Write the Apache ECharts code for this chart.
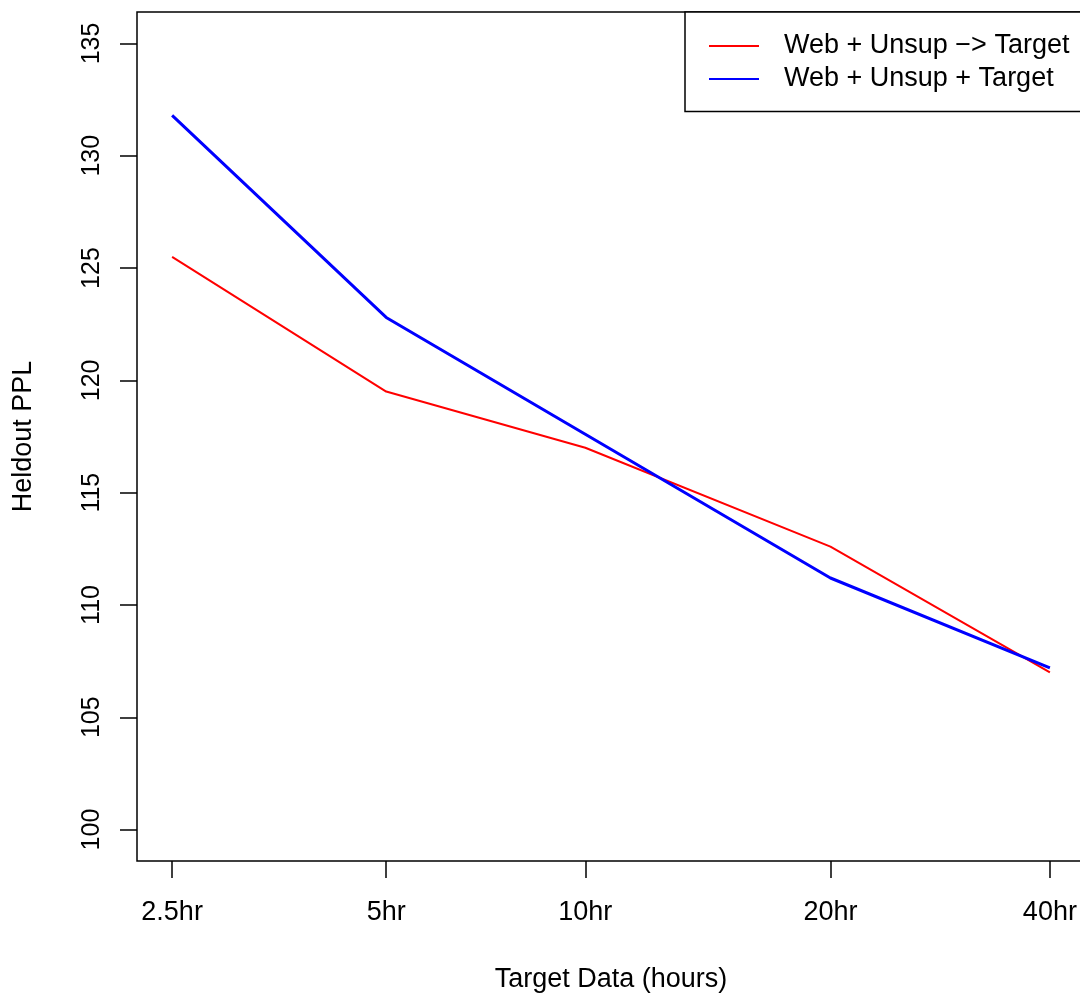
<!DOCTYPE html>
<html>
<head>
<meta charset="utf-8">
<script src="https://cdn.jsdelivr.net/npm/echarts@6/dist/echarts.min.js"></script>
<style>
html,body{margin:0;padding:0;background:#fff;overflow:hidden;}
#chart{width:1080px;height:994px;}
</style>
</head>
<body>
<div id="chart"></div>
<script>
// Categories (x tick labels) and their positions on the x axis
var categories = ['2.5hr', '5hr', '10hr', '20hr', '40hr'];
var xPositions = [1, 2, 2.93, 4.075, 5.10];
// Series values
var seqValues = [125.5, 119.5, 117.0, 112.6, 107.0];   // Web + Unsup -> Target
var jointValues = [131.8, 122.8, 117.6, 111.2, 107.2]; // Web + Unsup + Target
var seriesNames = ['Web + Unsup \u2212> Target', 'Web + Unsup + Target'];
// Y tick labels
var yTicks = [100, 105, 110, 115, 120, 125, 130, 135];

var FONT = "'Liberation Sans', Arial, Helvetica, sans-serif";

function pairs(vals) {
  return vals.map(function (v, i) { return [xPositions[i], v]; });
}

var xSpan = xPositions[xPositions.length - 1] - xPositions[0];
var xMin = xPositions[0] - 0.04 * xSpan;
var xMax = xPositions[xPositions.length - 1] + 0.04 * xSpan;
var yMin = 100 - 0.04 * 35, yMax = 135 + 0.04 * 35;

var chart = echarts.init(document.getElementById('chart'), null, {renderer: 'canvas'});
chart.setOption({
  animation: false,
  backgroundColor: '#ffffff',
  textStyle: {fontFamily: FONT, color: '#000'},
  grid: {
    left: 137, width: 948, top: 12, bottom: 133,
    containLabel: false,
    outerBoundsMode: 'none',
    show: true, borderColor: '#000', borderWidth: 1.5, backgroundColor: 'transparent'
  },
  legend: {
    orient: 'vertical',
    left: 685, top: 12,
    padding: [17.5, 20, 16, 24],
    borderColor: '#000', borderWidth: 1.5,
    backgroundColor: '#fff',
    icon: 'path://M0,0H50V2H0Z',
    itemWidth: 50, itemHeight: 2, itemGap: 0,
    textStyle: {fontFamily: FONT, fontSize: 27, color: '#000', lineHeight: 33, padding: [0, 0, 0, 20]},
    data: seriesNames
  },
  xAxis: {
    type: 'value',
    min: xMin, max: xMax,
    name: 'Target Data (hours)',
    nameLocation: 'middle',
    nameGap: 105,
    nameTextStyle: {fontFamily: FONT, fontSize: 27, color: '#000'},
    axisLine: {show: false},
    splitLine: {show: false},
    axisTick: {show: true, inside: false, length: 17, lineStyle: {color: '#000', width: 1.5}, customValues: xPositions},
    axisLabel: {
      show: true, margin: 38, fontFamily: FONT, fontSize: 27, color: '#000',
      customValues: xPositions,
      formatter: function (v) {
        for (var i = 0; i < xPositions.length; i++) {
          if (Math.abs(xPositions[i] - v) < 1e-6) return categories[i];
        }
        return '';
      }
    }
  },
  yAxis: {
    type: 'value',
    min: yMin, max: yMax,
    name: 'Heldout PPL',
    nameLocation: 'middle',
    nameRotate: 90,
    nameGap: 100,
    nameTextStyle: {fontFamily: FONT, fontSize: 27, color: '#000'},
    axisLine: {show: false},
    splitLine: {show: false},
    axisTick: {show: true, inside: false, length: 17, lineStyle: {color: '#000', width: 1.5}, customValues: yTicks},
    axisLabel: {
      show: true, margin: 32, rotate: 90, fontFamily: FONT, fontSize: 25, color: '#000',
      customValues: yTicks,
      formatter: function (v) { return String(Math.round(v)); }
    }
  },
  series: [
    {
      name: seriesNames[0], type: 'line', data: pairs(seqValues),
      symbol: 'none', color: '#ff0000',
      lineStyle: {color: '#ff0000', width: 2}
    },
    {
      name: seriesNames[1], type: 'line', data: pairs(jointValues),
      symbol: 'none', color: '#0000ff',
      lineStyle: {color: '#0000ff', width: 3}
    }
  ]
});
</script>
</body>
</html>
